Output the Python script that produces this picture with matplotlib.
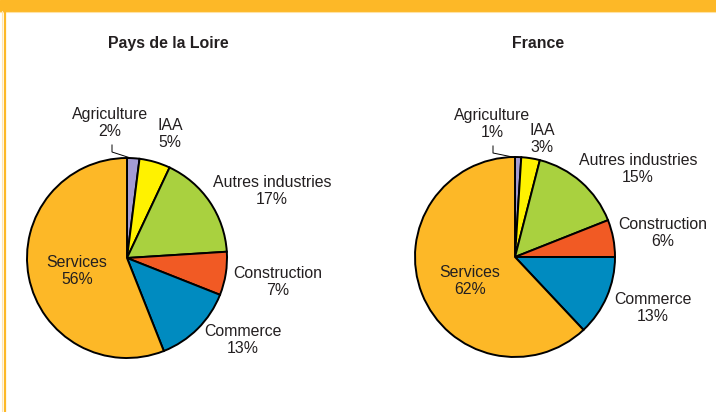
import matplotlib
matplotlib.use("Agg")
import matplotlib.pyplot as plt
from matplotlib.patches import Rectangle

plt.rcParams['font.family'] = ['Liberation Sans', 'DejaVu Sans']

categories = ["Agriculture", "IAA", "Autres industries", "Construction", "Commerce", "Services"]
pdl_values = [2, 5, 17, 7, 13, 56]
fr_values = [1, 3, 15, 6, 13, 62]
titles = ["Pays de la Loire", "France"]
colors = ["#A39BD3", "#FFF200", "#A9D13F", "#F15A24", "#008BC0", "#FDB827"]

W, H = 716, 412
fig = plt.figure(figsize=(W / 100, H / 100), dpi=100)
ax = fig.add_axes([0, 0, 1, 1])
ax.set_xlim(0, W)
ax.set_ylim(0, H)
ax.set_aspect('equal')
ax.axis('off')

def Y(y):
    return H - y

# frame decoration
ax.add_patch(Rectangle((0, Y(11)), W, 11, color="#FDB827", zorder=0))
ax.plot([0, W], [Y(11.5), Y(11.5)], color="#FFE3A6", lw=0.8, zorder=0)
ax.plot([4.5, 4.5], [0, Y(11)], color="#FDB827", lw=1.6, zorder=0)
ax.plot([2.2, 2.2], [0, Y(11)], color="#FFE6B0", lw=0.8, zorder=0)

FS = 11.4
text_color = "#231F20"

pies = [
    dict(values=pdl_values, center=(127, 258), title_xy=(168, 43),
         labels=[(110, 123), (170, 134), (272, 191), (278, 282), (243, 340), (77, 271)],
         leader=[(112, 145), (112, 152), (129, 157.5)]),
    dict(values=fr_values, center=(515, 257), title_xy=(538, 43),
         labels=[(492, 124), (542, 139), (638, 169), (663, 233), (653, 308), (470, 281)],
         leader=[(493, 146), (493, 153), (515, 157.5)]),
]

for p, title in zip(pies, titles):
    cx, cy = p['center']
    ax.pie(p['values'], colors=colors, startangle=90, counterclock=False,
           center=(cx, Y(cy)), radius=100, frame=True,
           wedgeprops=dict(edgecolor="black", linewidth=1.4))
    for cat, val, (lx, ly) in zip(categories, p['values'], p['labels']):
        ax.text(lx, Y(ly), f"{cat}\n{val}%", ha='center', va='center',
                fontsize=FS, color=text_color, linespacing=1.15)
    xs = [q[0] for q in p['leader']]
    ys = [Y(q[1]) for q in p['leader']]
    ax.plot(xs, ys, color="black", lw=0.7)
    tx, ty = p['title_xy']
    ax.text(tx, Y(ty), title, ha='center', va='center', fontsize=FS,
            fontweight='bold', color=text_color)

ax.set_xlim(0, W)
ax.set_ylim(0, H)
ax.axis('off')
fig.savefig("out.png", dpi=100)
